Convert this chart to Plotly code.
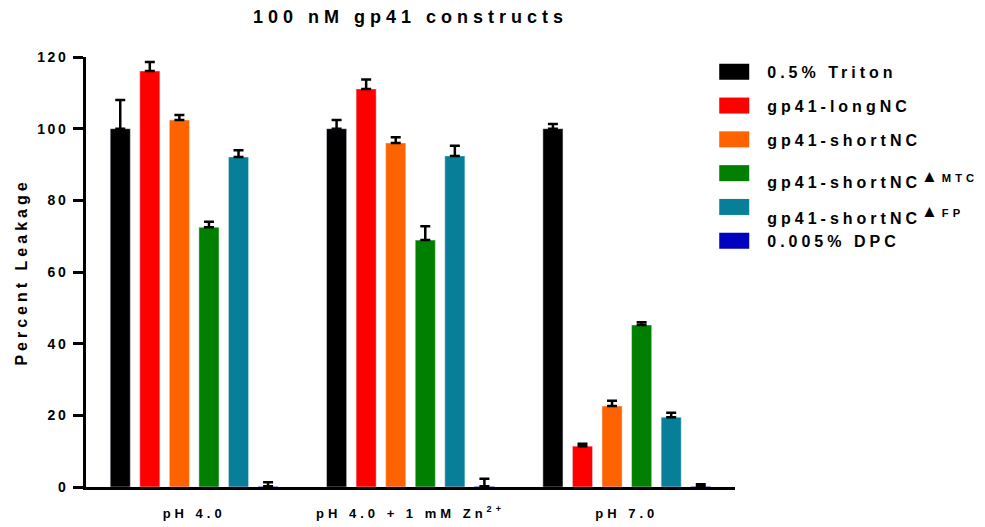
import plotly.graph_objects as go

categories = ["pH 4.0", "pH 4.0 + 1 mM Zn<sup>2+</sup>", "pH 7.0"]

series_names = [
    "0.5% Triton",
    "gp41-longNC",
    "gp41-shortNC",
    "gp41-shortNC<sup><span style=\"font-size:17px\">▲</span>MTC</sup>",
    "gp41-shortNC<sup><span style=\"font-size:17px\">▲</span>FP</sup>",
    "0.005% DPC",
]
series_colors = ["#000000", "#FF0000", "#FF6300", "#007F00", "#077F99", "#0000BF"]

triton = [100.0, 100.0, 100.0]
triton_err = [8.0, 2.4, 1.3]
long_nc = [116.1, 111.1, 11.4]
long_nc_err = [2.5, 2.6, 0.7]
short_nc = [102.4, 96.0, 22.6]
short_nc_err = [1.4, 1.6, 1.5]
short_mtc = [72.5, 68.9, 45.2]
short_mtc_err = [1.5, 3.9, 0.8]
short_fp = [92.1, 92.4, 19.5]
short_fp_err = [1.9, 2.8, 1.2]
dpc = [0.2, 0.2, 0.2]
dpc_err = [1.1, 2.1, 0.6]

values = [triton, long_nc, short_nc, short_mtc, short_fp, dpc]
errors = [triton_err, long_nc_err, short_nc_err, short_mtc_err, short_fp_err, dpc_err]

y_ticks = [0, 20, 40, 60, 80, 100, 120]

FONT = "Liberation Sans, Arial, sans-serif"

fig = go.Figure()
for name, col, vals, errs in zip(series_names, series_colors, values, errors):
    fig.add_trace(go.Bar(
        x=categories, y=vals, name=name, marker_color=col,
        legendgroup=name, showlegend=False,
        error_y=dict(type="data", array=errs, arrayminus=[0] * len(errs),
                     symmetric=False, color="#000000", thickness=2.5, width=5),
    ))
# legend swatches
for name, col in zip(series_names, series_colors):
    fig.add_trace(go.Scatter(
        x=[None], y=[None], mode="lines", name=name, legendgroup=name,
        line=dict(color=col, width=16), hoverinfo="skip",
    ))

fig.update_layout(
    width=985, height=527,
    margin=dict(l=86, r=250, t=57, b=40, autoexpand=False),
    paper_bgcolor="white", plot_bgcolor="white",
    barmode="group", bargap=0.18, bargroupgap=0.32,
    font=dict(family=FONT, color="#000000", weight="bold"),
    title=dict(text="100 nM gp41 constructs", x=0.5, xref="paper",
               y=1 - 17 / 527, yref="container", yanchor="middle", xanchor="center",
               font=dict(size=18, family=FONT, weight="bold")),
    legend=dict(x=0.968, xanchor="left", y=1.005, yanchor="top",
                font=dict(size=16, family=FONT, weight="bold"),
                tracegroupgap=10, itemwidth=30, bgcolor="rgba(0,0,0,0)"),
    showlegend=True,
)
fig.update_xaxes(
    type="category", range=[-0.5, 2.5], showline=True, linecolor="#000000",
    linewidth=3, ticks="", showgrid=False, zeroline=False, automargin=False,
    tickfont=dict(size=13, family=FONT, weight="bold"), ticklabelstandoff=12,
)
fig.update_yaxes(
    range=[0, 120], tickvals=y_ticks, ticktext=[str(v) for v in y_ticks],
    showline=True, linecolor="#000000", linewidth=3, automargin=False,
    ticks="outside", ticklen=10, tickwidth=2.5, tickcolor="#000000",
    showgrid=False, zeroline=False,
    tickfont=dict(size=14, family=FONT, weight="bold"), ticklabelstandoff=2,
    title=dict(text="Percent Leakage", font=dict(size=16, family=FONT, weight="bold"), standoff=14),
)

post = """
var s = document.createElement('style');
s.textContent = 'body{margin:0 !important;padding:0 !important}'
 + ' .gtitle{letter-spacing:5px}'
 + ' .legendtext{letter-spacing:4px;transform:translateX(13px)}'
 + ' .legend .groups:nth-child(4) .legendtext{transform:translate(13px,9px)}'
 + ' .legend .groups:nth-child(5) .legendtext{transform:translate(13px,11px)}'
 + ' .legend *{clip-path:none !important}'
 + ' .legendlines path{stroke-width:16px !important}'
 + ' .ytick text{letter-spacing:2.5px}'
 + ' .xtick text{letter-spacing:4px}'
 + ' .ytitle{letter-spacing:4px}';
document.head.appendChild(s);
"""

fig.write_html("out.html", post_script=post, config={"displayModeBar": False})
